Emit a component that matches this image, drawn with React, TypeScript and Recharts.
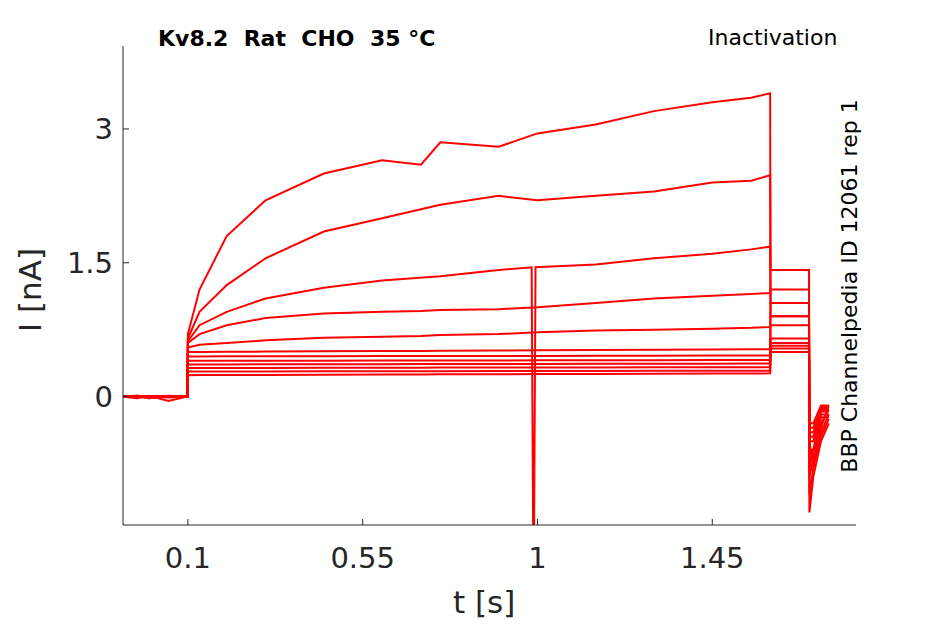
import { LineChart, Line, XAxis, YAxis } from "recharts";

const times = [-0.07, -0.03, 0.0, 0.05, 0.099, 0.1, 0.13, 0.2, 0.3, 0.45, 0.6, 0.7, 0.75, 0.9, 1.0, 1.15, 1.3, 1.45, 1.55, 1.599, 1.6, 1.65, 1.699, 1.7, 1.71, 1.73, 1.75];

const trace1 = [0, -0.02, 0.01, -0.05, 0, 0.7, 1.2, 1.8, 2.2, 2.5, 2.65, 2.6, 2.85, 2.8, 2.95, 3.05, 3.2, 3.3, 3.35, 3.4, 0.9, 0.9, 0.9, -0.5, -0.8, -0.3, -0.15];
const trace2 = [0, 0.01, -0.02, 0, 0.01, 0.65, 0.95, 1.25, 1.55, 1.85, 2.0, 2.1, 2.15, 2.25, 2.2, 2.25, 2.3, 2.4, 2.42, 2.48, 1.42, 1.42, 1.42, -1.3, -0.9, -0.5, -0.3];
const trace4 = [0, 0, -0.02, 0.01, 0, 0.6, 0.7, 0.8, 0.88, 0.93, 0.95, 0.96, 0.97, 0.98, 1.0, 1.05, 1.1, 1.13, 1.15, 1.16, 1.2, 1.2, 1.2, -0.9, -0.7, -0.4, -0.2];
const trace5 = [0, 0.01, 0, -0.01, 0, 0.55, 0.58, 0.6, 0.63, 0.66, 0.67, 0.68, 0.69, 0.7, 0.72, 0.74, 0.75, 0.76, 0.77, 0.78, 1.05, 1.05, 1.05, -0.8, -0.6, -0.35, -0.1];
const flatStart = [0.5, 0.45, 0.4, 0.36, 0.32, 0.28, 0.24];
const flatEnd = [0.53, 0.46, 0.41, 0.37, 0.33, 0.29, 0.26];
const flatTail = [0.9, 0.8, 0.65, 0.6, 0.57, 0.54, 0.5];
const flatDip = [-0.7, -0.6, -0.5, -0.45, -0.4, -0.35, -0.3];

const spikeTimes = [-0.07, 0.0, 0.099, 0.1, 0.13, 0.2, 0.3, 0.45, 0.6, 0.75, 0.9, 0.985, 0.99, 0.995, 1.15, 1.3, 1.45, 1.55, 1.599, 1.6, 1.65, 1.699, 1.7, 1.71, 1.73, 1.75];
const trace3 = [0, 0, 0, 0.62, 0.8, 0.95, 1.1, 1.22, 1.3, 1.35, 1.42, 1.45, -2.5, 1.45, 1.48, 1.55, 1.6, 1.65, 1.68, 1.05, 1.05, 1.05, -1.1, -0.8, -0.45, -0.25];

const xTicks = [0.1, 0.55, 1, 1.45];
const yTicks = [0, 1.5, 3];

function toPoints(ts: number[], vs: number[]) {
  return ts.map((t, i) => ({ t, v: vs[i] }));
}

function flatTrace(k: number) {
  const vs = times.map((t) => {
    if (t < 0.1) return 0;
    if (t < 1.6) return flatStart[k] + ((flatEnd[k] - flatStart[k]) * (t - 0.1)) / 1.5;
    if (t < 1.7) return flatTail[k];
    if (t < 1.72) return flatDip[k];
    return flatDip[k] / 3;
  });
  return toPoints(times, vs);
}

const series = [
  toPoints(times, trace1),
  toPoints(times, trace2),
  toPoints(spikeTimes, trace3),
  toPoints(times, trace4),
  toPoints(times, trace5),
  ...flatStart.map((_, k) => flatTrace(k)),
];

const txt = "#262626";

export default function App() {
  return (
    <div style={{ position: "absolute", left: 0, top: 0, width: 945, height: 624, background: "#fff", fontFamily: "DejaVu Sans" }}>
      <LineChart width={945} height={624} margin={{ top: 46, right: 89, bottom: 98, left: 122 }}>
        <XAxis
          dataKey="t"
          type="number"
          domain={[-0.067, 1.82]}
          allowDataOverflow
          ticks={xTicks}
          tickFormatter={(v) => String(v)}
          stroke={txt}
          tickSize={-6}
          tick={{ fill: txt, fontSize: 29, dy: 26 }}
          height={1}
          allowDuplicatedCategory={false}
        />
        <YAxis
          type="number"
          domain={[-1.44, 3.93]}
          allowDataOverflow
          ticks={yTicks}
          stroke={txt}
          tickSize={-6}
          tick={{ fill: txt, fontSize: 29, dx: -14 }}
          width={1}
        />
        {series.map((d, i) => (
          <Line
            key={i}
            data={d}
            dataKey="v"
            type="linear"
            stroke="#ff0000"
            strokeWidth={2}
            dot={false}
            isAnimationActive={false}
          />
        ))}
      </LineChart>
      <div style={{ position: "absolute", left: 158, top: 26, fontSize: 22, fontWeight: "bold", color: "#000" }}>Kv8.2&nbsp;&nbsp;Rat&nbsp;&nbsp;CHO&nbsp;&nbsp;35 °C</div>
      <div style={{ position: "absolute", left: 708, top: 25, fontSize: 22, color: "#000" }}>Inactivation</div>
      <div style={{ position: "absolute", left: 453, top: 584, fontSize: 31, color: txt }}>t [s]</div>
      <div style={{ position: "absolute", left: 30, top: 290, fontSize: 31, color: txt, transform: "translate(-50%,-50%) rotate(-90deg)", whiteSpace: "nowrap" }}>I [nA]</div>
      <div style={{ position: "absolute", left: 849, top: 286, fontSize: 22, color: "#000", transform: "translate(-50%,-50%) rotate(-90deg)", whiteSpace: "nowrap" }}>BBP Channelpedia ID 12061 rep 1</div>
    </div>
  );
}
